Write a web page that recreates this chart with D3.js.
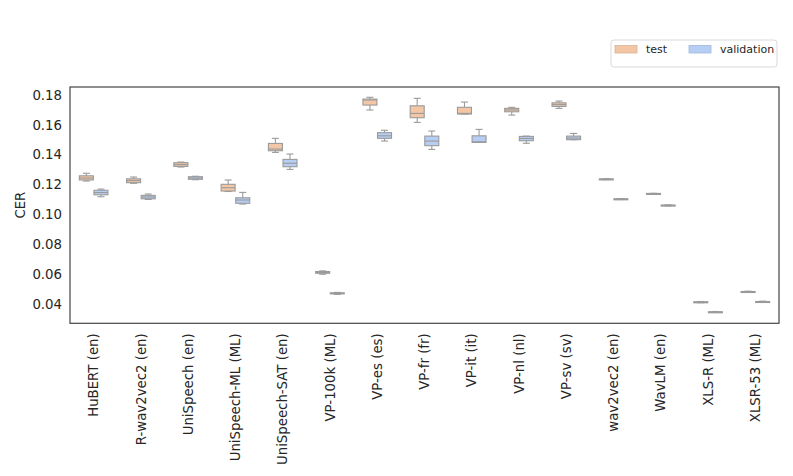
<!DOCTYPE html>
<html><head><meta charset="utf-8">
<script src="https://cdn.jsdelivr.net/npm/d3@7"></script>
<style>body{margin:0;background:#fff;} svg{display:block;font-family:"DejaVu Sans",sans-serif;}</style>
</head><body><svg id="c" width="793" height="476"></svg>
<script>
const categories = ["HuBERT (en)","R-wav2vec2 (en)","UniSpeech (en)","UniSpeech-ML (ML)","UniSpeech-SAT (en)","VP-100k (ML)","VP-es (es)","VP-fr (fr)","VP-it (it)","VP-nl (nl)","VP-sv (sv)","wav2vec2 (en)","WavLM (en)","XLS-R (ML)","XLSR-53 (ML)"];
const seriesNames = ["test","validation"];
// [whiskerLow, q1, median, q3, whiskerHigh]
const testStats = [
  [0.1224,0.1231,0.1244,0.1259,0.1276],
  [0.1209,0.1213,0.1227,0.1239,0.1251],
  [0.1318,0.1322,0.1334,0.1347,0.1351],
  [0.1154,0.1157,0.1179,0.1202,0.1231],
  [0.1416,0.1427,0.1438,0.1476,0.1510],
  [0.0600,0.0606,0.0612,0.0618,0.0622],
  [0.1700,0.1733,0.1767,0.1773,0.1785],
  [0.1617,0.1648,0.1677,0.1728,0.1778],
  [0.1673,0.1673,0.1677,0.1718,0.1753],
  [0.1666,0.1688,0.1700,0.1711,0.1718],
  [0.1711,0.1724,0.1736,0.1748,0.1760],
  [0.1234,0.1235,0.1237,0.1238,0.1240],
  [0.1136,0.1137,0.1139,0.1141,0.1142],
  [0.0409,0.0411,0.0413,0.0415,0.0417],
  [0.0480,0.0482,0.0483,0.0484,0.0486]
];
const valStats = [
  [0.1119,0.1132,0.1147,0.1162,0.1170],
  [0.1101,0.1105,0.1117,0.1128,0.1137],
  [0.1233,0.1236,0.1244,0.1253,0.1256],
  [0.1070,0.1075,0.1097,0.1112,0.1148],
  [0.1302,0.1320,0.1343,0.1369,0.1405],
  [0.0465,0.0469,0.0472,0.0475,0.0478],
  [0.1492,0.1510,0.1527,0.1548,0.1564],
  [0.1436,0.1461,0.1492,0.1525,0.1559],
  [0.1483,0.1483,0.1487,0.1527,0.1570],
  [0.1477,0.1494,0.1509,0.1523,0.1525],
  [0.1501,0.1501,0.1512,0.1525,0.1543],
  [0.1100,0.1101,0.1103,0.1105,0.1106],
  [0.1058,0.1059,0.1061,0.1063,0.1064],
  [0.0344,0.0346,0.0347,0.0348,0.0350],
  [0.0413,0.0415,0.0416,0.0417,0.0419]
];
const yTicks = [0.04,0.06,0.08,0.10,0.12,0.14,0.16,0.18];
const colors = ["#f3c6a5","#b6cef3"];

const svg = d3.select("#c");
const L=70, R=779, T=87, B=323.3;
const x = d3.scaleBand().domain(categories).range([L,R]).padding(0);
const y = d3.scaleLinear().domain([0.0271,0.1854]).range([B,T]);
const off = [-7.3, 7.3], bw = 14, cw = 7;
const edge = "#9a9a9a";

// y tick labels
svg.append("g").selectAll("text").data(yTicks).join("text")
  .attr("x", 62).attr("y", d=>y(d)).attr("dy","0.35em")
  .attr("text-anchor","end").attr("font-size",13.3).attr("fill","#262626")
  .text(d=>d.toFixed(2));
svg.append("text").attr("transform",`translate(25,${(T+B)/2}) rotate(-90)`)
  .attr("text-anchor","middle").attr("font-size",13.3).attr("fill","#262626").text("CER");

// x labels
svg.append("g").selectAll("text").data(categories).join("text")
  .attr("transform", d=>`translate(${x(d)+x.bandwidth()/2+4.6},${B+10}) rotate(-90)`)
  .attr("text-anchor","end").attr("font-size",13.3).attr("fill","#262626").text(d=>d);

// boxes
[testStats, valStats].forEach((stats, si)=>{
  const g = svg.append("g");
  stats.forEach((s, i)=>{
    const cx = x(categories[i]) + x.bandwidth()/2 + off[si];
    const [wl,q1,md,q3,wh] = s;
    g.append("line").attr("x1",cx).attr("x2",cx).attr("y1",y(q3)).attr("y2",y(wh)).attr("stroke",edge).attr("stroke-width",1.1);
    g.append("line").attr("x1",cx).attr("x2",cx).attr("y1",y(q1)).attr("y2",y(wl)).attr("stroke",edge).attr("stroke-width",1.1);
    g.append("line").attr("x1",cx-cw/2).attr("x2",cx+cw/2).attr("y1",y(wh)).attr("y2",y(wh)).attr("stroke",edge).attr("stroke-width",1.1);
    g.append("line").attr("x1",cx-cw/2).attr("x2",cx+cw/2).attr("y1",y(wl)).attr("y2",y(wl)).attr("stroke",edge).attr("stroke-width",1.1);
    const h = Math.max(y(q1)-y(q3), 1);
    g.append("rect").attr("x",cx-bw/2).attr("y",y(q3)).attr("width",bw).attr("height",h)
      .attr("fill",colors[si]).attr("stroke",edge).attr("stroke-width",1.1);
    g.append("line").attr("x1",cx-bw/2).attr("x2",cx+bw/2).attr("y1",y(md)).attr("y2",y(md)).attr("stroke",edge).attr("stroke-width",1.1);
  });
});

// frame
svg.append("rect").attr("x",L).attr("y",T).attr("width",R-L).attr("height",B-T)
  .attr("fill","none").attr("stroke","#444").attr("stroke-width",1.2);

// legend
const lg = svg.append("g");
lg.append("rect").attr("x",611).attr("y",40).attr("width",166).attr("height",27).attr("rx",3)
  .attr("fill","#fff").attr("stroke","#d9d9d9").attr("stroke-width",1);
const lx = [615, 689], tx = [646, 720];
seriesNames.forEach((n,i)=>{
  lg.append("rect").attr("x",lx[i]).attr("y",45.5).attr("width",22).attr("height",7.5)
    .attr("fill",colors[i]).attr("stroke",d3.color(colors[i]).darker(0.3)).attr("stroke-width",0.8);
  lg.append("text").attr("x",tx[i]).attr("y",49.5).attr("dy","0.35em").attr("font-size",11).attr("fill","#262626").text(n);
});
</script></body></html>
